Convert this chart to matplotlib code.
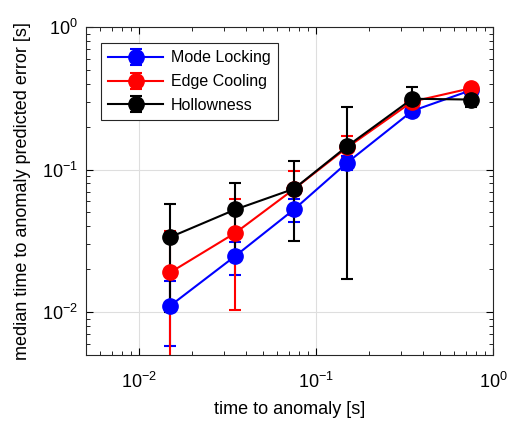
import matplotlib
matplotlib.use("Agg")
import matplotlib.pyplot as plt
from matplotlib.ticker import LogLocator, NullFormatter
import numpy as np

plt.rcParams['font.family'] = ['Liberation Sans', 'DejaVu Sans']

x = [0.015, 0.035, 0.075, 0.15, 0.35, 0.75]

ml_y = [0.0111, 0.0248, 0.0525, 0.112, 0.258, 0.36]
ml_lo = [0.0058, 0.0181, 0.0426, 0.100, 0.235, 0.335]
ml_hi = [0.0165, 0.0312, 0.0617, 0.124, 0.280, 0.385]

ec_y = [0.019, 0.036, 0.073, 0.143, 0.30, 0.372]
ec_lo = [0.003, 0.0104, 0.0478, 0.120, 0.275, 0.35]
ec_hi = [0.0368, 0.0617, 0.097, 0.171, 0.33, 0.395]

ho_y = [0.0336, 0.0525, 0.0733, 0.146, 0.314, 0.31]
ho_lo = [0.010, 0.0235, 0.0315, 0.017, 0.28, 0.276]
ho_hi = [0.0569, 0.0807, 0.1156, 0.273, 0.379, 0.335]

series = [
    ("Mode Locking", ml_y, ml_lo, ml_hi, (0, 0, 1)),
    ("Edge Cooling", ec_y, ec_lo, ec_hi, (1, 0, 0)),
    ("Hollowness", ho_y, ho_lo, ho_hi, (0, 0, 0)),
]

fig = plt.figure(figsize=(5.13, 4.23), dpi=100)
ax = fig.add_axes([0.1676, 0.1608, 0.7934, 0.7752])

for name, y, lo, hi, c in series:
    y = np.array(y); lo = np.array(lo); hi = np.array(hi)
    ax.errorbar(x, y, yerr=[y - lo, hi - y], color=c, marker='o', markersize=11,
                linewidth=1.5, elinewidth=1.5, capsize=4.5, capthick=1.5, label=name)

ax.set_xscale('log')
ax.set_yscale('log')
ax.set_xlim(0.005, 1)
ax.set_ylim(0.005, 1)
ax.grid(True, which='major', color=(0.87, 0.87, 0.87), linewidth=0.8)
ax.set_axisbelow(True)
ax.tick_params(which='both', direction='in', top=True, right=True, labelsize=13)
ax.tick_params(which='major', length=5)
ax.tick_params(axis='x', which='major', pad=12)
ax.tick_params(axis='y', which='major', pad=6)
ax.tick_params(which='minor', length=3)
ax.xaxis.set_minor_locator(LogLocator(base=10, subs=np.arange(2, 10)))
ax.yaxis.set_minor_locator(LogLocator(base=10, subs=np.arange(2, 10)))
ax.xaxis.set_minor_formatter(NullFormatter())
ax.yaxis.set_minor_formatter(NullFormatter())
for s in ax.spines.values():
    s.set_color((0.15, 0.15, 0.15))
    s.set_linewidth(0.8)

ax.set_xlabel("time to anomaly [s]", fontsize=13, labelpad=7)
ax.set_ylabel("median time to anomaly predicted error [s]", fontsize=13, labelpad=8)

leg = ax.legend(loc='upper left', bbox_to_anchor=(0.018, 0.975), fontsize=11.5, fancybox=False,
                edgecolor=(0.15, 0.15, 0.15), framealpha=1, handlelength=3.4, borderpad=0.45,
                labelspacing=0.55, handletextpad=0.5)
leg.get_frame().set_linewidth(0.8)

fig.savefig("out.png", dpi=100)
